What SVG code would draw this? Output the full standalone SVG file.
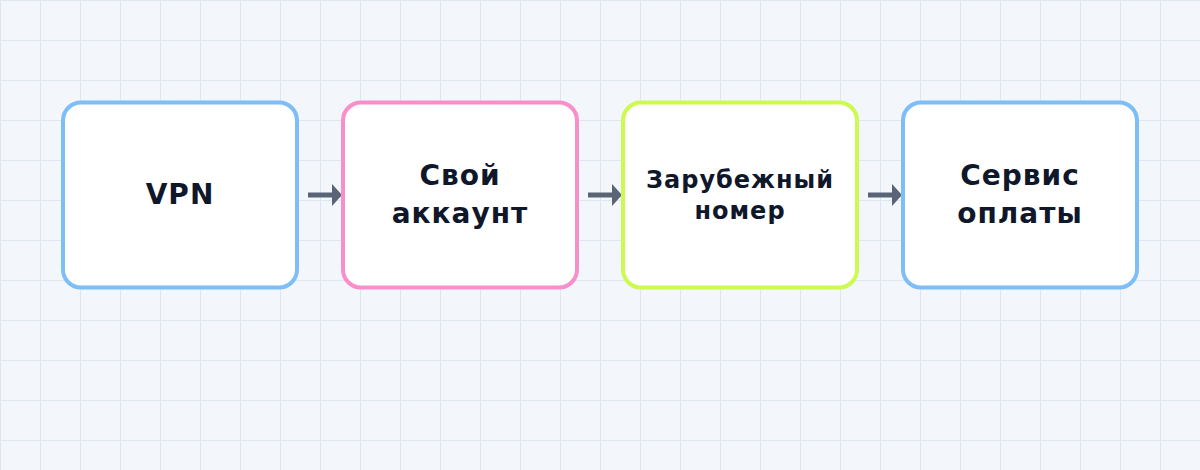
<svg xmlns="http://www.w3.org/2000/svg" width="1200" height="470" viewBox="0 0 1200 470">
  <defs>
    <pattern id="grid" width="40" height="40" patternUnits="userSpaceOnUse">
      <path d="M0.5 0V40M0 0.5H40" fill="none" stroke="#dee6f1" stroke-width="1"/>
    </pattern>
    <marker id="arrow" viewBox="0 0 10 22" refX="0" refY="11" markerWidth="2" markerHeight="4.4" markerUnits="strokeWidth" orient="auto" preserveAspectRatio="none">
      <path d="M0 0L10 11L0 22Z" fill="#5a6476"/>
    </marker>
  </defs>
  <style>
    .box { fill: #ffffff; stroke-width: 4; }
    .t { font-family: "DejaVu Sans", "Liberation Sans", sans-serif; font-weight: bold; fill: #0f172a; text-anchor: middle; letter-spacing: 1px; }
    .big { font-size: 28px; }
    .small { font-size: 24px; letter-spacing: 1px; }
    .conn { stroke: #5a6476; stroke-width: 5; fill: none; }
  </style>
  <rect width="1200" height="470" fill="#f3f6fa"/>
  <rect width="1200" height="470" fill="url(#grid)"/>

  <g id="connectors">
    <line class="conn" x1="308" y1="195" x2="332" y2="195" marker-end="url(#arrow)"/>
    <line class="conn" x1="588" y1="195" x2="612" y2="195" marker-end="url(#arrow)"/>
    <line class="conn" x1="868" y1="195" x2="892" y2="195" marker-end="url(#arrow)"/>
  </g>

  <g id="node-vpn">
    <rect class="box" x="63" y="102.5" width="234" height="185" rx="18" stroke="#7dbef8"/>
    <text class="t big" x="180" y="203.5">VPN</text>
  </g>
  <g id="node-account">
    <rect class="box" x="343" y="102.5" width="234" height="185" rx="18" stroke="#f88fcc"/>
    <text class="t big" x="460" y="185">Свой</text>
    <text class="t big" x="460" y="223">аккаунт</text>
  </g>
  <g id="node-number">
    <rect class="box" x="623" y="102.5" width="234" height="185" rx="18" stroke="#cdfa50"/>
    <text class="t small" x="740" y="187.5">Зарубежный</text>
    <text class="t small" x="740" y="219">номер</text>
  </g>
  <g id="node-payment">
    <rect class="box" x="903" y="102.5" width="234" height="185" rx="18" stroke="#7dbef8"/>
    <text class="t big" x="1020" y="185">Сервис</text>
    <text class="t big" x="1020" y="223">оплаты</text>
  </g>
</svg>
